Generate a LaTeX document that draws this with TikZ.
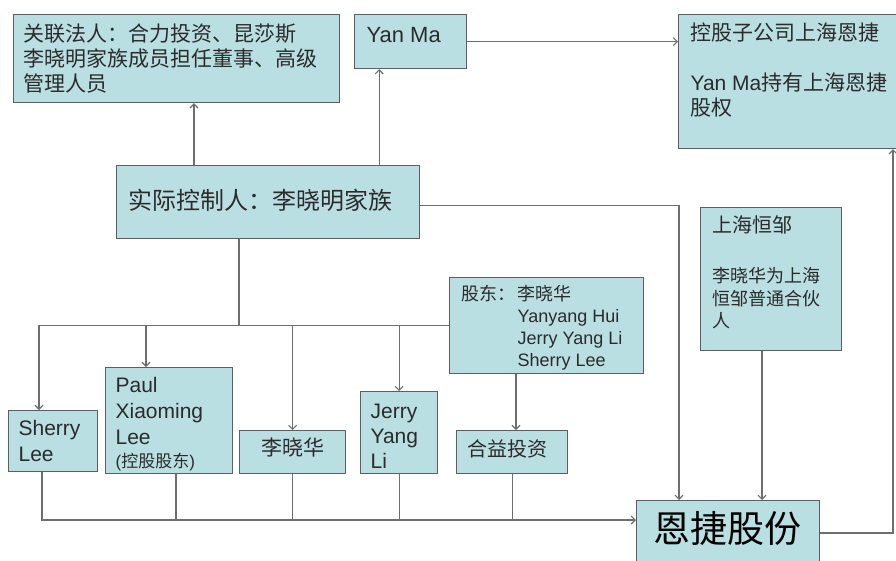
\documentclass[tikz,border=0pt]{standalone}
\usepackage{fontspec}
\setmainfont{Liberation Sans}
\newfontfamily\cjk{Noto Sans CJK SC}
\usetikzlibrary{arrows.meta}
\definecolor{boxfill}{HTML}{B9DFE3}
\definecolor{boxline}{HTML}{5E5E5E}
\definecolor{conncol}{HTML}{6E6E6E}
\definecolor{txt}{HTML}{2B2B2B}
\newcommand{\boxtext}[4]{\parbox[c][#2][t]{#1}{\rule{0pt}{#3}#4}}
\tikzset{
  box/.style={draw=boxline, fill=boxfill, line width=1.2pt, inner ysep=0pt, anchor=north west, text=txt},
  conn/.style={draw=conncol, line width=1.1pt},
  arr/.style={conn, -{Straight Barb[length=4pt,width=8pt]}}
}
\begin{document}
\begin{tikzpicture}[x=1pt,y=-1pt]
\useasboundingbox (0,0) rectangle (896,560);
% boxes
\node[box, inner xsep=10pt, font={\fontsize{21}{25}\selectfont\cjk}] (A) at (13,14)
  {\boxtext{306pt}{88pt}{27pt}{关联法人：合力投资、昆莎斯\\李晓明家族成员担任董事、高级\\管理人员}};
\node[box, inner xsep=12pt, font={\fontsize{22}{25}\selectfont}] (yan) at (354,14)
  {\boxtext{88pt}{54pt}{28pt}{Yan Ma}};
\node[box, inner xsep=12pt, font={\fontsize{24}{28}\selectfont\cjk}] (ctrl) at (116,165)
  {\boxtext{279pt}{73pt}{44pt}{实际控制人：李晓明家族}};
\node[box, inner xsep=12pt, font={\fontsize{21}{25}\selectfont}] (tr) at (678,14)
  {\boxtext{200pt}{134pt}{26pt}{{\cjk 控股子公司上海恩捷}\\[25pt]Yan Ma{\cjk 持有上海恩捷}\\{\cjk 股权}}};
\node[box, inner xsep=12pt, font={\fontsize{18}{22.5}\selectfont\cjk}] (hz) at (700,207)
  {\boxtext{117pt}{143pt}{25pt}{{\fontsize{20}{22.5}\selectfont 上海恒邹}\\[27.5pt]李晓华为上海\\恒邹普通合伙\\人}};
\node[box, inner xsep=12pt, font={\fontsize{18}{22}\selectfont}] (gd) at (449,277)
  {\boxtext{170pt}{96pt}{23pt}{\makebox[56pt][l]{\cjk 股东：}{\cjk 李晓华}\\\hspace*{56pt}Yanyang Hui\\\hspace*{56pt}Jerry Yang Li\\\hspace*{56pt}Sherry Lee}};
\node[box, inner xsep=10pt, font={\fontsize{21}{26}\selectfont}] (sherry) at (8,410)
  {\boxtext{69pt}{61pt}{24.5pt}{Sherry\\Lee}};
\node[box, inner xsep=10pt, font={\fontsize{21}{26}\selectfont}] (paul) at (105,367)
  {\boxtext{107pt}{106pt}{24.5pt}{Paul\\Xiaoming\\Lee\\[-3pt]{\fontsize{17}{20}\selectfont ({\cjk 控股股东})}}};
\node[box, inner xsep=0pt, font={\fontsize{21}{25}\selectfont\cjk}] (lxh) at (239,430)
  {\boxtext{106pt}{43pt}{25pt}{\centering 李晓华}};
\node[box, inner xsep=10pt, font={\fontsize{21}{25}\selectfont}] (jerry) at (360,391)
  {\boxtext{57pt}{82pt}{26.5pt}{Jerry\\Yang\\Li}};
\node[box, inner xsep=11pt, font={\fontsize{20}{24}\selectfont\cjk}] (hy) at (456,430)
  {\boxtext{89pt}{43pt}{25.6pt}{合益投资}};
\node[box, inner xsep=17pt, text=black, font={\fontsize{37}{40}\selectfont\cjk}] (enjie) at (636,500)
  {\boxtext{149pt}{80pt}{42pt}{恩捷股份}};
\coordinate (busB) at (0,520);
% connectors
\draw[arr] ([xshift=78pt]ctrl.north west) -- ([xshift=78pt]ctrl.north west |- A.south);
\draw[arr] ([xshift=-41pt]ctrl.north east) -- ([xshift=-41pt]ctrl.north east |- yan.south);
\draw[arr] (yan.east) -- (yan.east -| tr.west);
\draw[arr] ([yshift=-3.5pt]ctrl.east) -| ([xshift=43pt]enjie.north west);
\draw[conn] ([xshift=123pt]ctrl.south west) -- ([xshift=123pt]ctrl.south west |- gd.west);
\draw[arr] (gd.west) -| ([xshift=31pt]sherry.north west);
\draw[arr] ([xshift=41pt]paul.north west |- gd.west) -- ([xshift=41pt]paul.north west);
\draw[arr] (lxh.north |- gd.west) -- (lxh.north);
\draw[arr] (jerry.north |- gd.west) -- (jerry.north);
\draw[arr] ([xshift=67pt]gd.south west) -- ([xshift=67pt]gd.south west |- hy.north);
\draw[arr] ([xshift=34pt]sherry.south west) |- (enjie.west |- busB);
\draw[conn] ([xshift=71pt]paul.south west) -- ([xshift=71pt]paul.south west |- busB);
\draw[conn] (lxh.south) -- (lxh.south |- busB);
\draw[conn] (jerry.south) -- (jerry.south |- busB);
\draw[conn] (hy.south) -- (hy.south |- busB);
\draw[arr] ([xshift=62pt]hz.south west) -- ([xshift=62pt]hz.south west |- enjie.north);
\draw[arr] ([yshift=-33pt]enjie.north east) -| ([xshift=215pt]tr.south west);
\end{tikzpicture}
\end{document}
